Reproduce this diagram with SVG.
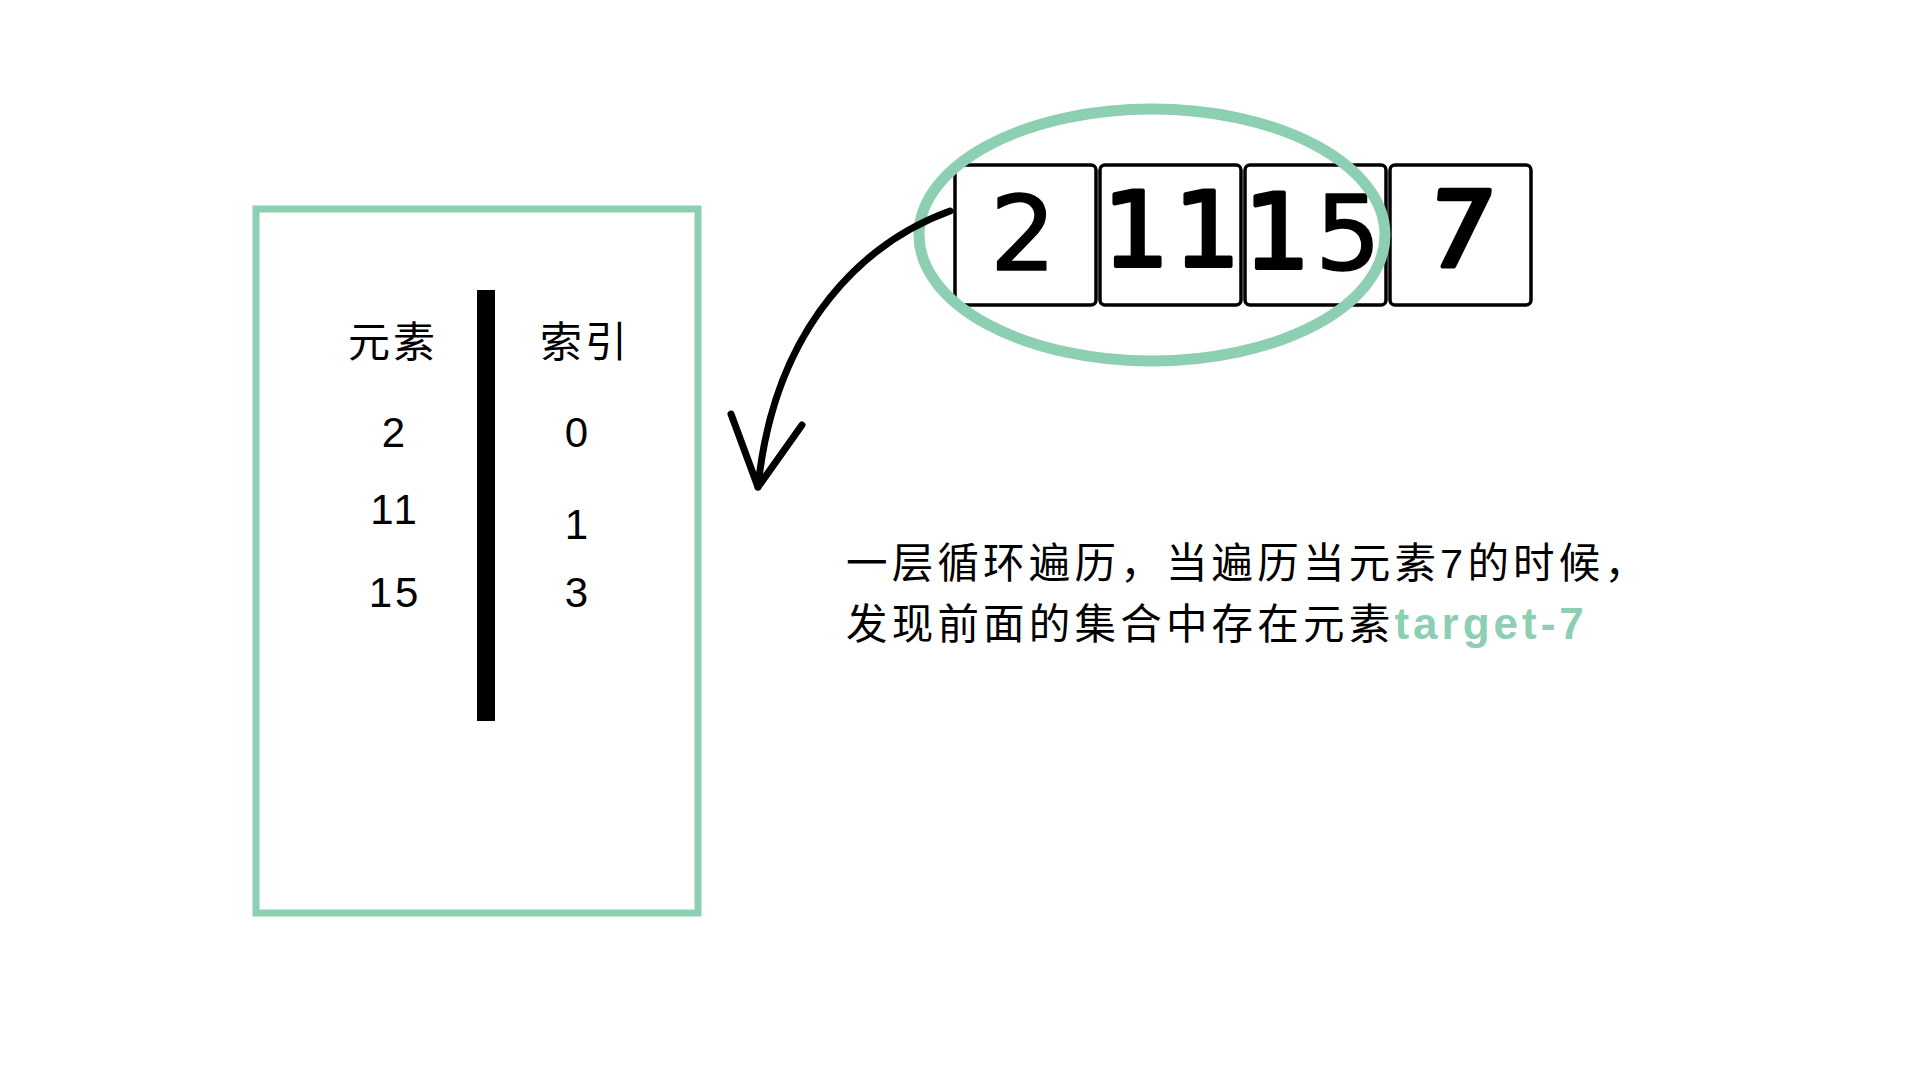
<svg xmlns="http://www.w3.org/2000/svg" width="1920" height="1080" viewBox="0 0 1920 1080">
<style>
.t{font-family:"Liberation Sans","Noto Sans CJK SC",sans-serif;fill:#000}
.tbl{font-size:42px;text-anchor:middle;letter-spacing:3px}
.cell{fill:#fff;stroke:#000;stroke-width:3.5}
.dig{font-family:"DejaVu Sans","Liberation Sans",sans-serif;font-size:104px;text-anchor:middle;fill:#000;stroke:#000;stroke-linejoin:round}
.note{font-size:41.5px;letter-spacing:4.2px}
.green{fill:#8ccfb2}
.hand{fill:none;stroke:#000;stroke-width:7;stroke-linecap:round;stroke-linejoin:round}
</style>
<rect width="1920" height="1080" fill="#fff"/>
<g id="map-box">
<rect x="256" y="209" width="442" height="704" fill="none" stroke="#8ccfb2" stroke-width="7"/>
<rect x="477" y="290" width="18" height="431" fill="#000"/>
<text class="t tbl" x="393" y="357">元素</text>
<text class="t tbl" x="585" y="357">索引</text>
<text class="t tbl" x="395" y="447">2</text>
<text class="t tbl" x="578" y="447">0</text>
<text class="t tbl" x="395" y="524">11</text>
<text class="t tbl" x="578" y="539">1</text>
<text class="t tbl" x="395" y="607">15</text>
<text class="t tbl" x="578" y="607">3</text>
</g>
<g id="array">
<rect class="cell" x="955" y="165" width="141" height="140" rx="5"/>
<rect class="cell" x="1100" y="165" width="141" height="140" rx="5"/>
<rect class="cell" x="1245" y="165" width="141" height="140" rx="5"/>
<rect class="cell" x="1390" y="165" width="141" height="140" rx="5"/>
<text class="dig" x="1023" y="270" stroke-width="1.5">2</text>
<text class="dig" x="1136" y="266" stroke-width="4">1</text>
<text class="dig" x="1207" y="266" stroke-width="4">1</text>
<text class="dig" x="1277" y="268" stroke-width="4">1</text>
<text class="dig" x="1348" y="270" stroke-width="1.5">5</text>
<text class="dig" x="1457" y="266" stroke-width="5" transform="skewX(-6) translate(28,0)">7</text>
</g>
<g id="highlight">
<ellipse cx="1152" cy="235" rx="233" ry="126" fill="none" stroke="#8ccfb2" stroke-width="11"/>
</g>
<g id="connectors">
<path class="hand" d="M950,211 C870,240 775,320 758,487"/>
<polyline class="hand" points="731,414 758,487 802,425"/>
</g>
<g id="note">
<text class="t note" x="846" y="578">一层循环遍历，当遍历当元素7的时候，</text>
<text class="t note" x="846" y="639">发现前面的集合中存在元素<tspan class="green" font-weight="bold" font-size="44px" letter-spacing="4px">target-7</tspan></text>
</g>
</svg>
